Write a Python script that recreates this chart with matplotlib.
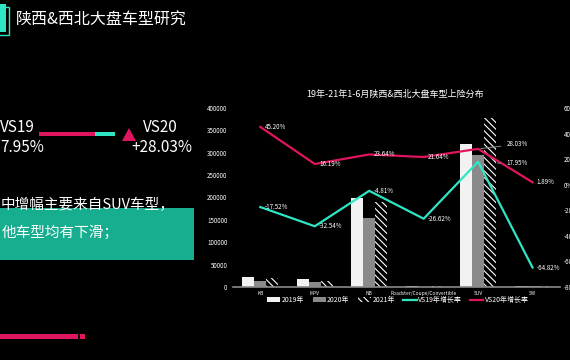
import numpy as np
import matplotlib
matplotlib.use('Agg')
import matplotlib.pyplot as plt
from matplotlib.patches import Rectangle, Polygon, Patch
from matplotlib.lines import Line2D

plt.rcParams['font.family'] = ['Noto Sans CJK SC', 'DejaVu Sans']
plt.rcParams['hatch.linewidth'] = 0.8

# ─── Data ────────────────────────────────────────────────────────────────────
categories = ['KB', 'MPV', 'NB', 'Roadster/Coupe/Convertible', 'SUV', 'SW']
sales_2019 = [23000, 18600, 199000, 1500, 320500, 3000]
sales_2020 = [13100, 10800, 153300, 900, 295300, 1040]
sales_2021 = [19000, 12550, 189500, 1100, 378000, 1060]
growth_vs19 = [-17.52, -32.54, -4.81, -26.62, 17.95, -64.82]
growth_vs20 = [45.20, 16.19, 23.64, 21.64, 28.03, 1.89]
left_ticks = [0, 50000, 100000, 150000, 200000, 250000, 300000, 350000, 400000]
right_ticks = [-80, -60, -40, -20, 0, 20, 40, 60]

CYAN = '#2ee6c4'
PINK = '#e0155f'
TEAL = '#17ad8f'
GRAY = '#8a8a8a'

fig = plt.figure(figsize=(5.7, 3.6), dpi=100, facecolor='black')

# ─── Left panel decorations ─────────────────────────────────────────────────
deco = fig.add_axes([0, 0, 1, 1])
deco.set_xlim(0, 570)
deco.set_ylim(360, 0)
deco.axis('off')
deco.set_zorder(0)

deco.add_patch(Rectangle((-2, 4), 8, 28, facecolor=CYAN, edgecolor='none'))
deco.add_patch(Rectangle((-2, 7), 11, 28, facecolor='none', edgecolor=CYAN, lw=1))
deco.text(16, 20, '陕西&西北大盘车型研究', color='white', fontsize=11.5,
          va='center', ha='left')

# visible part of the summary (the panel is cropped at the left edge)
deco.text(0, 128, 'VS19', color='white', fontsize=11, va='center', ha='left')
deco.text(0, 148, '7.95%', color='white', fontsize=11, va='center', ha='left')
deco.add_patch(Rectangle((39, 132), 56, 4, facecolor=PINK, edgecolor='none'))
deco.add_patch(Rectangle((95, 132), 20, 4, facecolor=CYAN, edgecolor='none'))
deco.add_patch(Polygon([[122, 141], [136, 141], [129, 128]], closed=True,
                       facecolor=PINK, edgecolor='none'))
deco.text(143, 128, 'VS20', color='white', fontsize=11, va='center', ha='left')
deco.text(131, 148, '+28.03%', color='white', fontsize=11, va='center', ha='left')

deco.add_patch(Rectangle((-2, 208), 196, 52, facecolor=TEAL, edgecolor='none'))
deco.text(1, 205, '中增幅主要来自SUV车型，', color='white', fontsize=10.5,
          va='center', ha='left')
deco.text(2, 232, '他车型均有下滑；', color='white', fontsize=10.5,
          va='center', ha='left')

deco.add_patch(Rectangle((-2, 334), 80, 5, facecolor=PINK, edgecolor='none'))
deco.add_patch(Rectangle((80, 334), 5, 5, facecolor=PINK, edgecolor='none'))

deco.text(395, 94, '19年-21年1-6月陕西&西北大盘车型上险分布', color='white',
          fontsize=6.5, ha='center', va='center')

# ─── Chart ───────────────────────────────────────────────────────────────────
ax = fig.add_axes([0.409, 0.203, 0.573, 0.497])
ax.set_facecolor('none')
ax.set_zorder(1)
x = np.arange(len(categories))
w = 0.22
ax.bar(x - w, sales_2019, w, color='#f2f2f2', zorder=2)
ax.bar(x, sales_2020, w, color=GRAY, zorder=2)
ax.bar(x + w, sales_2021, w, facecolor='black', edgecolor='white',
       hatch='\\\\\\\\\\', linewidth=0, zorder=2)
ax.set_xlim(-0.5, len(categories) - 0.5)
ax.set_ylim(0, 400000)
ax.set_yticks(left_ticks)
ax.set_yticklabels([str(t) for t in left_ticks])
ax.set_xticks(x)
ax.set_xticklabels(categories)
ax.tick_params(axis='y', colors='white', labelsize=4.5, length=0, pad=4)
ax.tick_params(axis='x', colors='white', labelsize=3.5, length=0, pad=3)
for s in ['top', 'right', 'left']:
    ax.spines[s].set_visible(False)
ax.spines['bottom'].set_color(GRAY)
ax.spines['bottom'].set_linewidth(1.2)

ax2 = ax.twinx()
ax2.set_ylim(-80, 60)
ax2.set_yticks(right_ticks)
ax2.set_yticklabels([f'{t}%' for t in right_ticks])
ax2.tick_params(axis='y', colors='white', labelsize=4.5, length=0, pad=3)
for s in ax2.spines.values():
    s.set_visible(False)
ax2.plot(x, growth_vs19, color=CYAN, lw=1.6, zorder=3)
ax2.plot(x, growth_vs20, color=PINK, lw=1.6, zorder=3)

for i, (g19, g20) in enumerate(zip(growth_vs19, growth_vs20)):
    if categories[i] == 'SUV':
        ax2.annotate(f'{g20:.2f}%', xy=(i, g20), xytext=(i + 0.52, g20 + 3.5),
                     color='white', fontsize=4.5, va='center',
                     arrowprops=dict(arrowstyle='-', color=GRAY, lw=0.7))
        ax2.annotate(f'{g19:.2f}%', xy=(i + 0.3, g19 - 1), xytext=(i + 0.52, g19 - 1),
                     color='white', fontsize=4.5, va='center',
                     arrowprops=dict(arrowstyle='-', color=GRAY, lw=0.7))
    else:
        ax2.annotate(f'{g20:.2f}%', xy=(i, g20), xytext=(3, 0),
                     textcoords='offset points', color='white', fontsize=4.5,
                     va='center')
        ax2.annotate(f'{g19:.2f}%', xy=(i, g19), xytext=(3, 0),
                     textcoords='offset points', color='white', fontsize=4.5,
                     va='center')

handles = [Patch(facecolor='#f2f2f2'), Patch(facecolor=GRAY),
           Patch(facecolor='black', edgecolor='white', hatch='\\\\\\\\\\', linewidth=0),
           Line2D([], [], color=CYAN, lw=1.6), Line2D([], [], color=PINK, lw=1.6)]
labels = ['2019年', '2020年', '2021年', 'VS19年增长率', 'VS20年增长率']
fig.legend(handles, labels, loc='center', bbox_to_anchor=(398 / 570, 1 - 300 / 360),
           ncol=5, frameon=False, fontsize=5, labelcolor='white',
           handlelength=1.9, handleheight=0.6, columnspacing=1.2, handletextpad=0.2)

fig.savefig('out.png', dpi=100, facecolor='black')
